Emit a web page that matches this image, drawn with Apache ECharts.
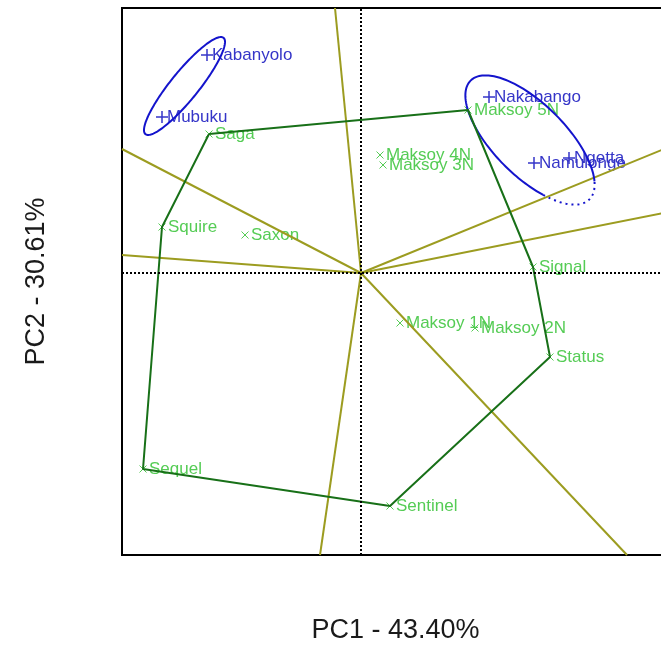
<!DOCTYPE html>
<html><head><meta charset="utf-8">
<script src="https://cdn.jsdelivr.net/npm/echarts@6/dist/echarts.min.js"></script>
<style>html,body{margin:0;padding:0;background:#fff}#chart{width:661px;height:648px}</style>
</head><body><div id="chart"></div>
<script>
// Genotype scores on the first two principal components
const genotypeNames = ['Saga','Squire','Saxon','Maksoy 4N','Maksoy 3N','Maksoy 5N','Signal','Maksoy 1N','Maksoy 2N','Status','Sentinel','Sequel'];
const genotypePC1 = [-1.52,-1.99,-1.16,0.19,0.22,1.07,1.72,0.39,1.14,1.89,0.29,-2.18];
const genotypePC2 = [1.39,0.46,0.38,1.18,1.08,1.63,0.06,-0.50,-0.55,-0.84,-2.33,-1.96];

// Environment scores
const envNames = ['Kabanyolo','Mubuku','Nakabango','Namulonge','Ngetta'];
const envPC1 = [-1.54,-1.99,1.28,1.73,2.08];
const envPC2 = [2.18,1.56,1.76,1.10,1.15];

// Vertex genotypes of the convex hull, in drawing order
const hullOrder = ['Saga','Maksoy 5N','Signal','Status','Sentinel','Sequel','Squire'];

// Sector boundary rays from the origin, end points on the plot edge
const rayEndPC1 = [-0.26,-0.41,-2.39,-2.39,3.08,3.08,2.66];
const rayEndPC2 = [2.65,-2.82,1.24,0.18,1.26,0.61,-2.82];

// Mega-environment ellipses: centre, semi-axes, rotation (degrees)
const ellipseCentrePC1 = [-1.765, 1.69];
const ellipseCentrePC2 = [1.87, 1.33];
const ellipseSemiMajor = [0.62, 0.84];
const ellipseSemiMinor = [0.14, 0.36];
const ellipseAngle = [51, -45];
const ellipseDottedArc = [null, [-55, 27]];

// Axis titles and ranges
const pc1Title = 'PC1 - 43.40%';
const pc2Title = 'PC2 - 30.61%';
const pc1Range = [-2.39, 3.08];
const pc2Range = [-2.82, 2.65];

const FONT = '"Liberation Sans", Arial, Helvetica, sans-serif';
const GENO_COLOR = '#55cc55';
const ENV_COLOR = '#3535c8';
const HULL_COLOR = '#187018';
const RAY_COLOR = '#9c9c20';
const ELLIPSE_COLOR = '#1414cc';

const genoData = genotypeNames.map((n, i) => [genotypePC1[i], genotypePC2[i], n]);
const envData = envNames.map((n, i) => [envPC1[i], envPC2[i], n]);
const hullData = hullOrder.concat([hullOrder[0]]).map(n => {
  const i = genotypeNames.indexOf(n);
  return [genotypePC1[i], genotypePC2[i]];
});
const rayData = rayEndPC1.map((x, i) => [x, rayEndPC2[i]]);
const ellipseData = ellipseCentrePC1.map((x, i) => [x, ellipseCentrePC2[i], i]);

function ellipsePoint(api, i, deg) {
  const t = deg * Math.PI / 180, th = ellipseAngle[i] * Math.PI / 180;
  const a = ellipseSemiMajor[i] * Math.cos(t), b = ellipseSemiMinor[i] * Math.sin(t);
  return api.coord([
    ellipseCentrePC1[i] + a * Math.cos(th) - b * Math.sin(th),
    ellipseCentrePC2[i] + a * Math.sin(th) + b * Math.cos(th)
  ]);
}
function arcPoints(api, i, from, to) {
  const pts = [];
  const steps = Math.max(8, Math.round(Math.abs(to - from) / 2));
  for (let k = 0; k <= steps; k++) pts.push(ellipsePoint(api, i, from + (to - from) * k / steps));
  return pts;
}

const chart = echarts.init(document.getElementById('chart'), null, { renderer: 'canvas' });
const hiddenAxis = {
  axisLine: { show: false }, axisTick: { show: false },
  axisLabel: { show: false }, splitLine: { show: false }
};
chart.setOption({
  animation: false,
  backgroundColor: '#fff',
  grid: { left: 122, top: 8, width: 547, height: 547, outerBoundsMode: 'none', containLabel: false,
    show: true, borderColor: '#000', borderWidth: 2, backgroundColor: 'transparent' },
  xAxis: Object.assign({ type: 'value', min: pc1Range[0], max: pc1Range[1], name: pc1Title, nameLocation: 'middle', nameGap: 62,
    nameTextStyle: { fontSize: 27, color: '#1a1a1a', fontFamily: FONT } }, hiddenAxis),
  yAxis: Object.assign({ type: 'value', min: pc2Range[0], max: pc2Range[1], name: pc2Title, nameLocation: 'middle', nameGap: 72,
    nameTextStyle: { fontSize: 27, color: '#1a1a1a', fontFamily: FONT } }, hiddenAxis),
  series: [
    { // reference axes through the origin
      type: 'line', data: [], silent: true,
      markLine: { silent: true, symbol: 'none', label: { show: false },
        lineStyle: { color: '#000', width: 2, type: [2, 2] },
        data: [{ xAxis: 0 }, { yAxis: 0 }] }
    },
    { // genotypes
      type: 'custom', data: genoData, encode: { x: 0, y: 1 }, silent: true,
      renderItem: (params, api) => {
        const p = api.coord([api.value(0), api.value(1)]);
        const s = 3.5;
        return { type: 'group', children: [
          { type: 'line', shape: { x1: p[0]-s, y1: p[1]-s, x2: p[0]+s, y2: p[1]+s }, style: { stroke: GENO_COLOR, lineWidth: 1 } },
          { type: 'line', shape: { x1: p[0]-s, y1: p[1]+s, x2: p[0]+s, y2: p[1]-s }, style: { stroke: GENO_COLOR, lineWidth: 1 } },
          { type: 'text', x: p[0] + 6, y: p[1], style: { text: genoData[params.dataIndex][2], fill: GENO_COLOR,
            fontSize: 17, fontFamily: FONT, align: 'left', verticalAlign: 'middle' } }
        ] };
      }
    },
    { // environments
      type: 'custom', data: envData, encode: { x: 0, y: 1 }, silent: true,
      renderItem: (params, api) => {
        const p = api.coord([api.value(0), api.value(1)]);
        const s = 6;
        return { type: 'group', children: [
          { type: 'line', shape: { x1: p[0]-s, y1: p[1], x2: p[0]+s, y2: p[1] }, style: { stroke: ENV_COLOR, lineWidth: 1.5 } },
          { type: 'line', shape: { x1: p[0], y1: p[1]-s, x2: p[0], y2: p[1]+s }, style: { stroke: ENV_COLOR, lineWidth: 1.5 } },
          { type: 'text', x: p[0] + 5, y: p[1], style: { text: envData[params.dataIndex][2], fill: ENV_COLOR,
            fontSize: 17, fontFamily: FONT, align: 'left', verticalAlign: 'middle' } }
        ] };
      }
    },
    { // convex hull of the genotypes
      type: 'line', data: hullData, symbol: 'none', silent: true,
      lineStyle: { color: HULL_COLOR, width: 2 }
    },
    { // sector boundaries
      type: 'custom', data: rayData, encode: { x: 0, y: 1 }, silent: true,
      renderItem: (params, api) => {
        const o = api.coord([0, 0]);
        const p = api.coord([api.value(0), api.value(1)]);
        return { type: 'line', shape: { x1: o[0], y1: o[1], x2: p[0], y2: p[1] }, style: { stroke: RAY_COLOR, lineWidth: 2 } };
      }
    },
    { // mega-environment ellipses
      type: 'custom', data: ellipseData, encode: { x: 0, y: 1 }, silent: true,
      renderItem: (params, api) => {
        const i = api.value(2);
        const dotted = ellipseDottedArc[i];
        const children = [];
        if (dotted) {
          children.push({ type: 'polyline', shape: { points: arcPoints(api, i, dotted[1], dotted[0] + 360) },
            style: { stroke: ELLIPSE_COLOR, lineWidth: 2, fill: null } });
          children.push({ type: 'polyline', shape: { points: arcPoints(api, i, dotted[0], dotted[1]) },
            style: { stroke: ELLIPSE_COLOR, lineWidth: 2, fill: null, lineDash: [2, 4] } });
        } else {
          children.push({ type: 'polyline', shape: { points: arcPoints(api, i, 0, 360) },
            style: { stroke: ELLIPSE_COLOR, lineWidth: 2, fill: null } });
        }
        return { type: 'group', children };
      }
    }
  ]
});
</script></body></html>
